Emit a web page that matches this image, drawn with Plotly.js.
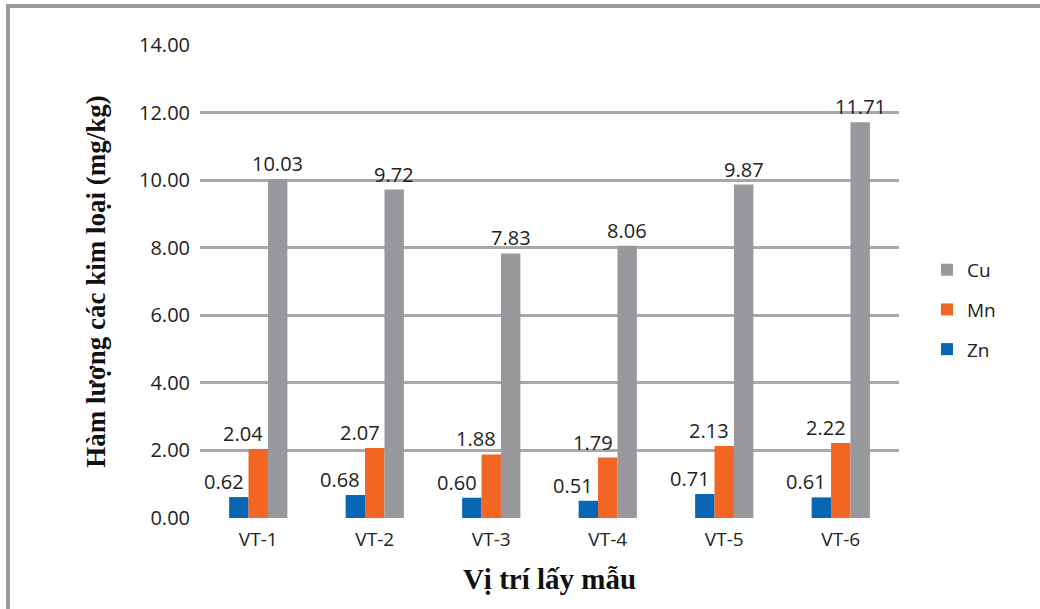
<!DOCTYPE html>
<html>
<head>
<meta charset="utf-8">
<script src="https://cdn.plot.ly/plotly-3.0.1.min.js"></script>
<style>
  html, body { margin: 0; padding: 0; background: #ffffff; }
  #wrap { position: relative; width: 1040px; height: 609px; overflow: hidden; }
  #chart { position: absolute; left: 0; top: 0; width: 1040px; height: 609px; }
  #frame { position: absolute; left: 6px; top: 4px; width: 1100px; height: 700px;
           border-left: 4px solid #9b9b9d; border-top: 4px solid #9b9b9d; pointer-events: none; }
</style>
</head>
<body>
<div id="wrap">
  <div id="chart"></div>
  <div id="frame"></div>
</div>
<script>
// ---- data ----
const categories = ['VT-1', 'VT-2', 'VT-3', 'VT-4', 'VT-5', 'VT-6'];
const seriesNames = ['Zn', 'Mn', 'Cu'];
const znValues = [0.62, 0.68, 0.60, 0.51, 0.71, 0.61];
const mnValues = [2.04, 2.07, 1.88, 1.79, 2.13, 2.22];
const cuValues = [10.03, 9.72, 7.83, 8.06, 9.87, 11.71];
const yTickValues = [0, 2, 4, 6, 8, 10, 12, 14];
const yTitle = 'Hàm lượng các kim loại (mg/kg)';
const xTitle = 'Vị trí lấy mẫu';

// ---- styling ----
const colors = { Zn: '#0866b4', Mn: '#f26522', Cu: '#98999c' };
const legendRank = { Cu: 1, Mn: 2, Zn: 3 };
const sans = 'Open Sans, sans-serif';
const serif = 'Liberation Serif, Times New Roman, serif';
const bargap = 0.5;

const seriesValues = [znValues, mnValues, cuValues];
const traces = seriesNames.map((name, k) => ({
  type: 'bar',
  name: name,
  x: categories,
  y: seriesValues[k],
  marker: { color: colors[name], line: { width: 0 } },
  legendgroup: name,
  legendrank: legendRank[name],
  hoverinfo: 'x+y+name'
}));

// value labels via annotations placed at each bar's position
const barW = (1 - bargap) / seriesNames.length;
const labelShift = { Zn: -15, Mn: -15, Cu: 0 };
const annotations = [];
seriesNames.forEach((name, k) => {
  const off = (k - (seriesNames.length - 1) / 2) * barW;
  seriesValues[k].forEach((v, i) => {
    annotations.push({
      x: i + off, y: v, xref: 'x', yref: 'y',
      text: v.toFixed(2), showarrow: false,
      xanchor: 'center', yanchor: 'bottom',
      xshift: labelShift[name], yshift: 0,
      font: { family: sans, size: 20, color: '#222222' }
    });
  });
});

const layout = {
  width: 1040, height: 609,
  margin: { l: 200, r: 141, t: 45, b: 91, pad: 0 },
  paper_bgcolor: '#ffffff', plot_bgcolor: '#ffffff',
  barmode: 'group', bargap: bargap, bargroupgap: 0,
  showlegend: true,
  legend: {
    x: 1.04, xanchor: 'left', y: 0.44, yanchor: 'middle',
    traceorder: 'grouped', tracegroupgap: 12,
    font: { family: sans, size: 19, color: '#222222' },
    bgcolor: 'rgba(0,0,0,0)'
  },
  xaxis: {
    type: 'category',
    showgrid: false, showline: false, zeroline: false, ticks: '',
    ticklabelstandoff: 8,
    tickfont: { family: sans, size: 19, color: '#222222' },
    title: { text: xTitle, standoff: 17, font: { family: serif, size: 29, color: '#111111', weight: 'bold' } },
    automargin: false
  },
  yaxis: {
    range: [0, 14], tickvals: yTickValues, tickformat: '.2f',
    showgrid: true, gridcolor: '#a7a8aa', gridwidth: 3,
    zeroline: false, showline: false, ticks: '',
    ticklabelstandoff: 9,
    tickfont: { family: sans, size: 20, color: '#222222' },
    title: { text: yTitle, standoff: 25, font: { family: serif, size: 27, color: '#111111', weight: 'bold' } },
    automargin: false
  },
  annotations: annotations
};

Plotly.newPlot('chart', traces, layout, { displayModeBar: false, staticPlot: true });
</script>
</body>
</html>
